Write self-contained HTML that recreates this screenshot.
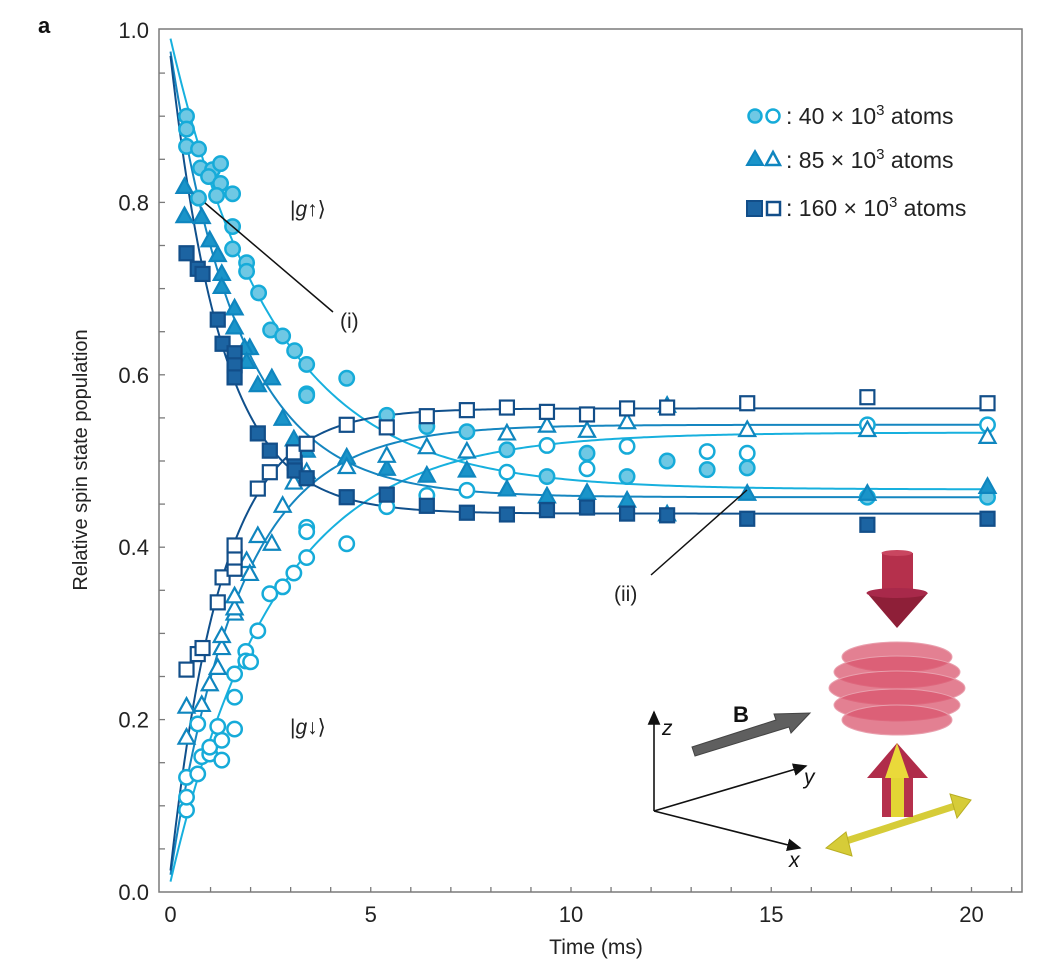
<!DOCTYPE html>
<html><head><meta charset="utf-8">
<style>
html,body{margin:0;padding:0;background:#fff;}
svg{display:block;font-family:"Liberation Sans","DejaVu Sans",sans-serif;}
</style></head>
<body>
<svg id="chart" width="1058" height="976" viewBox="0 0 1058 976" xmlns="http://www.w3.org/2000/svg">
<text x="38" y="33" font-size="22" font-weight="bold" fill="#111">a</text>
<g id="axes"></g>
<g id="curves"></g>
<g id="marks"></g>
<text x="87" y="460" font-size="20" fill="#222" text-anchor="middle" transform="rotate(-90 87 460)">Relative spin state population</text>
<text x="596" y="954" font-size="21" fill="#222" text-anchor="middle">Time (ms)</text>
<text x="290" y="216" font-size="21" fill="#222">|<tspan font-style="italic">g</tspan>↑⟩</text>
<text x="290" y="734" font-size="21" fill="#222">|<tspan font-style="italic">g</tspan>↓⟩</text>
<line x1="205" y1="203" x2="333" y2="312" stroke="#111" stroke-width="1.5"/>
<text x="340" y="328" font-size="21" fill="#222">(i)</text>
<line x1="747" y1="490" x2="651" y2="575" stroke="#111" stroke-width="1.5"/>
<text x="614" y="601" font-size="21" fill="#222">(ii)</text>
<g font-size="23" fill="#222">
  <g>
    <circle cx="755" cy="116" r="6.5" fill="#6fc8e4" stroke="#16abd9" stroke-width="2.5"/>
    <circle cx="773" cy="116" r="6.5" fill="#fff" stroke="#16abd9" stroke-width="2.5"/>
    <text x="786" y="124">: 40 × 10<tspan dy="-9" font-size="15">3</tspan><tspan dy="9"> atoms</tspan></text>
  </g>
  <g>
    <polygon points="755,151 763,165 747,165" fill="#1a94c9" stroke="#0f86bf" stroke-width="2"/>
    <polygon points="773,152 780,165 766,165" fill="#fff" stroke="#0f86bf" stroke-width="2.5"/>
    <text x="786" y="168">: 85 × 10<tspan dy="-9" font-size="15">3</tspan><tspan dy="9"> atoms</tspan></text>
  </g>
  <g>
    <rect x="747" y="201" width="15" height="15" fill="#1c64a2" stroke="#124e89" stroke-width="2"/>
    <rect x="767" y="202" width="13" height="13" fill="#fff" stroke="#124e89" stroke-width="2.5"/>
    <text x="786" y="216">: 160 × 10<tspan dy="-9" font-size="15">3</tspan><tspan dy="9"> atoms</tspan></text>
  </g>
</g>
<g>
  <defs>
    <marker id="ah" markerWidth="10" markerHeight="10" refX="8" refY="5" orient="auto"><path d="M0,1 L9,5 L0,9 z" fill="#111"/></marker>
  </defs>
  <line x1="654" y1="811" x2="654" y2="712" stroke="#111" stroke-width="1.6" marker-end="url(#ah)"/>
  <line x1="654" y1="811" x2="806" y2="766" stroke="#111" stroke-width="1.6" marker-end="url(#ah)"/>
  <line x1="654" y1="811" x2="800" y2="848" stroke="#111" stroke-width="1.6" marker-end="url(#ah)"/>
  <text x="662" y="735" font-size="21" font-style="italic" fill="#111">z</text>
  <text x="804" y="784" font-size="21" font-style="italic" fill="#111">y</text>
  <text x="789" y="867" font-size="21" font-style="italic" fill="#111">x</text>
  <text x="733" y="722" font-size="22" font-weight="bold" fill="#111">B</text>
  <polygon points="692,747 776,720 774,714 810,713 791,733 789,727 695,756" fill="#5f5f5f" stroke="#444" stroke-width="1"/>
  <g>
    <rect x="882" y="553" width="31" height="40" fill="#b5304c"/>
    <ellipse cx="897" cy="553" rx="15.5" ry="3" fill="#c94660"/>
    <polygon points="867,593 928,593 897,628" fill="#8e1f38"/>
    <ellipse cx="897" cy="593" rx="30.5" ry="5" fill="#a8294a"/>
  </g>
  <g fill="#d9566e" fill-opacity="0.75" stroke="#e9a0ae" stroke-width="1">
    <ellipse cx="897" cy="657" rx="55" ry="15"/>
    <ellipse cx="897" cy="672" rx="63" ry="16"/>
    <ellipse cx="897" cy="688" rx="68" ry="17"/>
    <ellipse cx="897" cy="705" rx="63" ry="16"/>
    <ellipse cx="897" cy="720" rx="55" ry="15"/>
  </g>
  <g>
    <line x1="840" y1="843" x2="958" y2="805" stroke="#d6cc38" stroke-width="7"/>
    <polygon points="826,848 846,832 852,856" fill="#d6cc38" stroke="#b9ae22" stroke-width="1"/>
    <polygon points="971,800 950,794 957,818" fill="#d6cc38" stroke="#b9ae22" stroke-width="1"/>
    <rect x="882" y="777" width="31" height="40" fill="#b5304c"/>
    <rect x="891" y="777" width="13" height="40" fill="#e3d534"/>
    <polygon points="867,778 928,778 897,743" fill="#b02c4a"/>
    <polygon points="885,778 909,778 897,743" fill="#ead93a"/>
  </g>
</g>
<script>
// ---- chart data ----
var xTicks = [0, 5, 10, 15, 20];
var yTicks = [0.0, 0.2, 0.4, 0.6, 0.8, 1.0];
var yTickLabels = ["0.0", "0.2", "0.4", "0.6", "0.8", "1.0"];

var t40Filled = [0.4,0.4,0.4,0.7,0.75,1.05,1.25,0.95,1.25,0.7,1.15,1.55,1.55,1.55,1.9,1.9,2.2,2.5,2.8,3.1,3.4,3.4,3.4,4.4,5.4,6.4,7.4,8.4,9.4,10.4,11.4,12.4,13.4,14.4,17.4,20.4];
var v40Filled = [0.90,0.885,0.865,0.862,0.84,0.838,0.845,0.83,0.822,0.805,0.808,0.81,0.772,0.746,0.73,0.72,0.695,0.652,0.645,0.628,0.612,0.578,0.576,0.596,0.553,0.54,0.534,0.513,0.482,0.509,0.482,0.50,0.49,0.492,0.458,0.458];
var t40Open = [0.4,0.4,0.4,0.68,0.78,0.98,0.98,1.28,1.28,1.18,1.6,0.68,1.6,1.6,1.88,1.88,2.0,2.18,2.48,2.8,3.08,3.4,3.4,3.4,4.4,5.4,6.4,7.4,8.4,9.4,10.4,11.4,13.4,14.4,17.4,20.4];
var v40Open = [0.095,0.11,0.133,0.137,0.157,0.16,0.168,0.153,0.176,0.192,0.189,0.195,0.226,0.253,0.279,0.268,0.267,0.303,0.346,0.354,0.37,0.388,0.423,0.418,0.404,0.447,0.46,0.466,0.487,0.518,0.491,0.517,0.511,0.509,0.542,0.542];
var t85Filled = [0.35,0.35,0.78,0.98,1.18,1.28,1.28,1.6,1.6,1.98,1.85,1.9,2.53,2.18,2.8,3.08,3.4,4.4,5.4,6.4,7.4,8.4,9.4,10.4,11.4,12.4,14.4,17.4,20.4];
var v85Filled = [0.818,0.784,0.783,0.756,0.739,0.717,0.702,0.677,0.655,0.631,0.631,0.615,0.596,0.588,0.549,0.525,0.512,0.504,0.491,0.483,0.489,0.467,0.459,0.463,0.454,0.438,0.462,0.462,0.47];
var t85Open = [0.4,0.4,0.78,0.98,1.18,1.28,1.28,1.6,1.6,1.6,1.9,1.98,2.18,2.53,2.8,3.08,3.4,4.4,5.4,6.4,7.4,8.4,9.4,10.4,11.4,12.4,14.4,17.4,20.4];
var v85Open = [0.179,0.215,0.217,0.241,0.26,0.283,0.297,0.323,0.329,0.343,0.384,0.369,0.413,0.404,0.448,0.475,0.487,0.493,0.506,0.516,0.511,0.532,0.541,0.535,0.545,0.564,0.536,0.536,0.528];
var t160Filled = [0.4,0.68,0.8,1.18,1.3,1.6,1.6,1.6,2.18,2.48,3.1,3.1,3.4,4.4,5.4,6.4,7.4,8.4,9.4,10.4,11.4,12.4,14.4,17.4,20.4];
var v160Filled = [0.741,0.723,0.717,0.664,0.636,0.625,0.611,0.597,0.532,0.512,0.498,0.489,0.48,0.458,0.461,0.448,0.44,0.438,0.443,0.446,0.439,0.437,0.433,0.426,0.433];
var t160Open = [0.4,0.68,0.8,1.18,1.3,1.6,1.6,1.6,2.18,2.48,3.08,3.4,4.4,5.4,6.4,7.4,8.4,9.4,10.4,11.4,12.4,14.4,17.4,20.4];
var v160Open = [0.258,0.276,0.283,0.336,0.365,0.375,0.388,0.402,0.468,0.487,0.51,0.52,0.542,0.539,0.552,0.559,0.562,0.557,0.554,0.561,0.562,0.567,0.574,0.567];

// fit curves: v = asym + (start - asym) * exp(-t / tau)
var fitAsym  = [0.467, 0.533, 0.458, 0.542, 0.439, 0.561];
var fitStart = [0.99, 0.012, 0.975, 0.02, 0.97, 0.025];
var fitTau   = [2.6, 2.6, 1.74, 1.74, 1.29, 1.29];

// ---- layout ----
var NS = "http://www.w3.org/2000/svg";
var X0 = 170.5, XS = 40.05, Y0 = 892, YS = 862;
function xs(t){ return X0 + t * XS; }
function ys(v){ return Y0 - v * YS; }
function mk(tag, attrs, parent){
  var e = document.createElementNS(NS, tag);
  for (var k in attrs) e.setAttribute(k, attrs[k]);
  parent.appendChild(e);
  return e;
}
var axes = document.getElementById('axes');
var frame = mk('path', {d:'M159,29 H1022 V892 H159 Z', fill:'none', stroke:'#7a7a7a', 'stroke-width':1.5}, axes);


for (var i = 1; i <= 21; i++) {
  var tk = mk('line', {x1:xs(i), x2:xs(i), y1:892, y2:887, stroke:'#7a7a7a', 'stroke-width':1.3}, axes);
  
  
}
for (var j = 1; j < 20; j++) {
  var ty = mk('line', {x1:159, x2:165, y1:ys(j*0.05), y2:ys(j*0.05), stroke:'#7a7a7a', 'stroke-width':1.3}, axes);
  
  
}
xTicks.forEach(function(t){
  var l = mk('text', {x:xs(t), y:922, 'font-size':22, fill:'#222', 'text-anchor':'middle'}, axes);
  l.textContent = String(t);
  
  
});
yTicks.forEach(function(v, k){
  var l = mk('text', {x:149, y:ys(v)+8, 'font-size':22, fill:'#222', 'text-anchor':'end'}, axes);
  l.textContent = yTickLabels[k];
  
  
});

var lineColors = ['#17b0de','#17b0de','#1586c0','#1586c0','#10508c','#10508c'];
var curves = document.getElementById('curves');
fitAsym.forEach(function(a, k){
  var d = '';
  for (var s = 0; s <= 300; s++) {
    var t = s * 20.5 / 300;
    var v = a + (fitStart[k] - a) * Math.exp(-t / fitTau[k]);
    d += (s ? 'L' : 'M') + xs(t).toFixed(2) + ',' + ys(v).toFixed(2);
  }
  var p = mk('path', {d:d, fill:'none', stroke:lineColors[k], 'stroke-width':2}, curves);
  
  
});

var marks = document.getElementById('marks');
function drawSeries(ts, vs, shape, fill, stroke, name){
  ts.forEach(function(t, i){
    var cx = xs(t), cy = ys(vs[i]), el;
    if (shape === 'circle') el = mk('circle', {cx:cx, cy:cy, r:7.2, fill:fill, stroke:stroke, 'stroke-width':2.5}, marks);
    else if (shape === 'tri') el = mk('polygon', {points:(cx)+','+(cy-8.5)+' '+(cx+8)+','+(cy+6)+' '+(cx-8)+','+(cy+6), fill:fill, stroke:stroke, 'stroke-width':2.2, 'stroke-linejoin':'miter'}, marks);
    else el = mk('rect', {x:cx-7, y:cy-7, width:14, height:14, fill:fill, stroke:stroke, 'stroke-width':2.2}, marks);
    
    
  });
}
drawSeries(t40Filled, v40Filled, 'circle', '#6fc8e4', '#16abd9', 'point-40k-up');
drawSeries(t40Open, v40Open, 'circle', '#fff', '#16abd9', 'point-40k-down');
drawSeries(t85Filled, v85Filled, 'tri', '#1a94c9', '#0f86bf', 'point-85k-up');
drawSeries(t85Open, v85Open, 'tri', '#fff', '#0f86bf', 'point-85k-down');
drawSeries(t160Filled, v160Filled, 'rect', '#1c64a2', '#124e89', 'point-160k-up');
drawSeries(t160Open, v160Open, 'rect', '#fff', '#124e89', 'point-160k-down');
</script>
</svg>
</body></html>
